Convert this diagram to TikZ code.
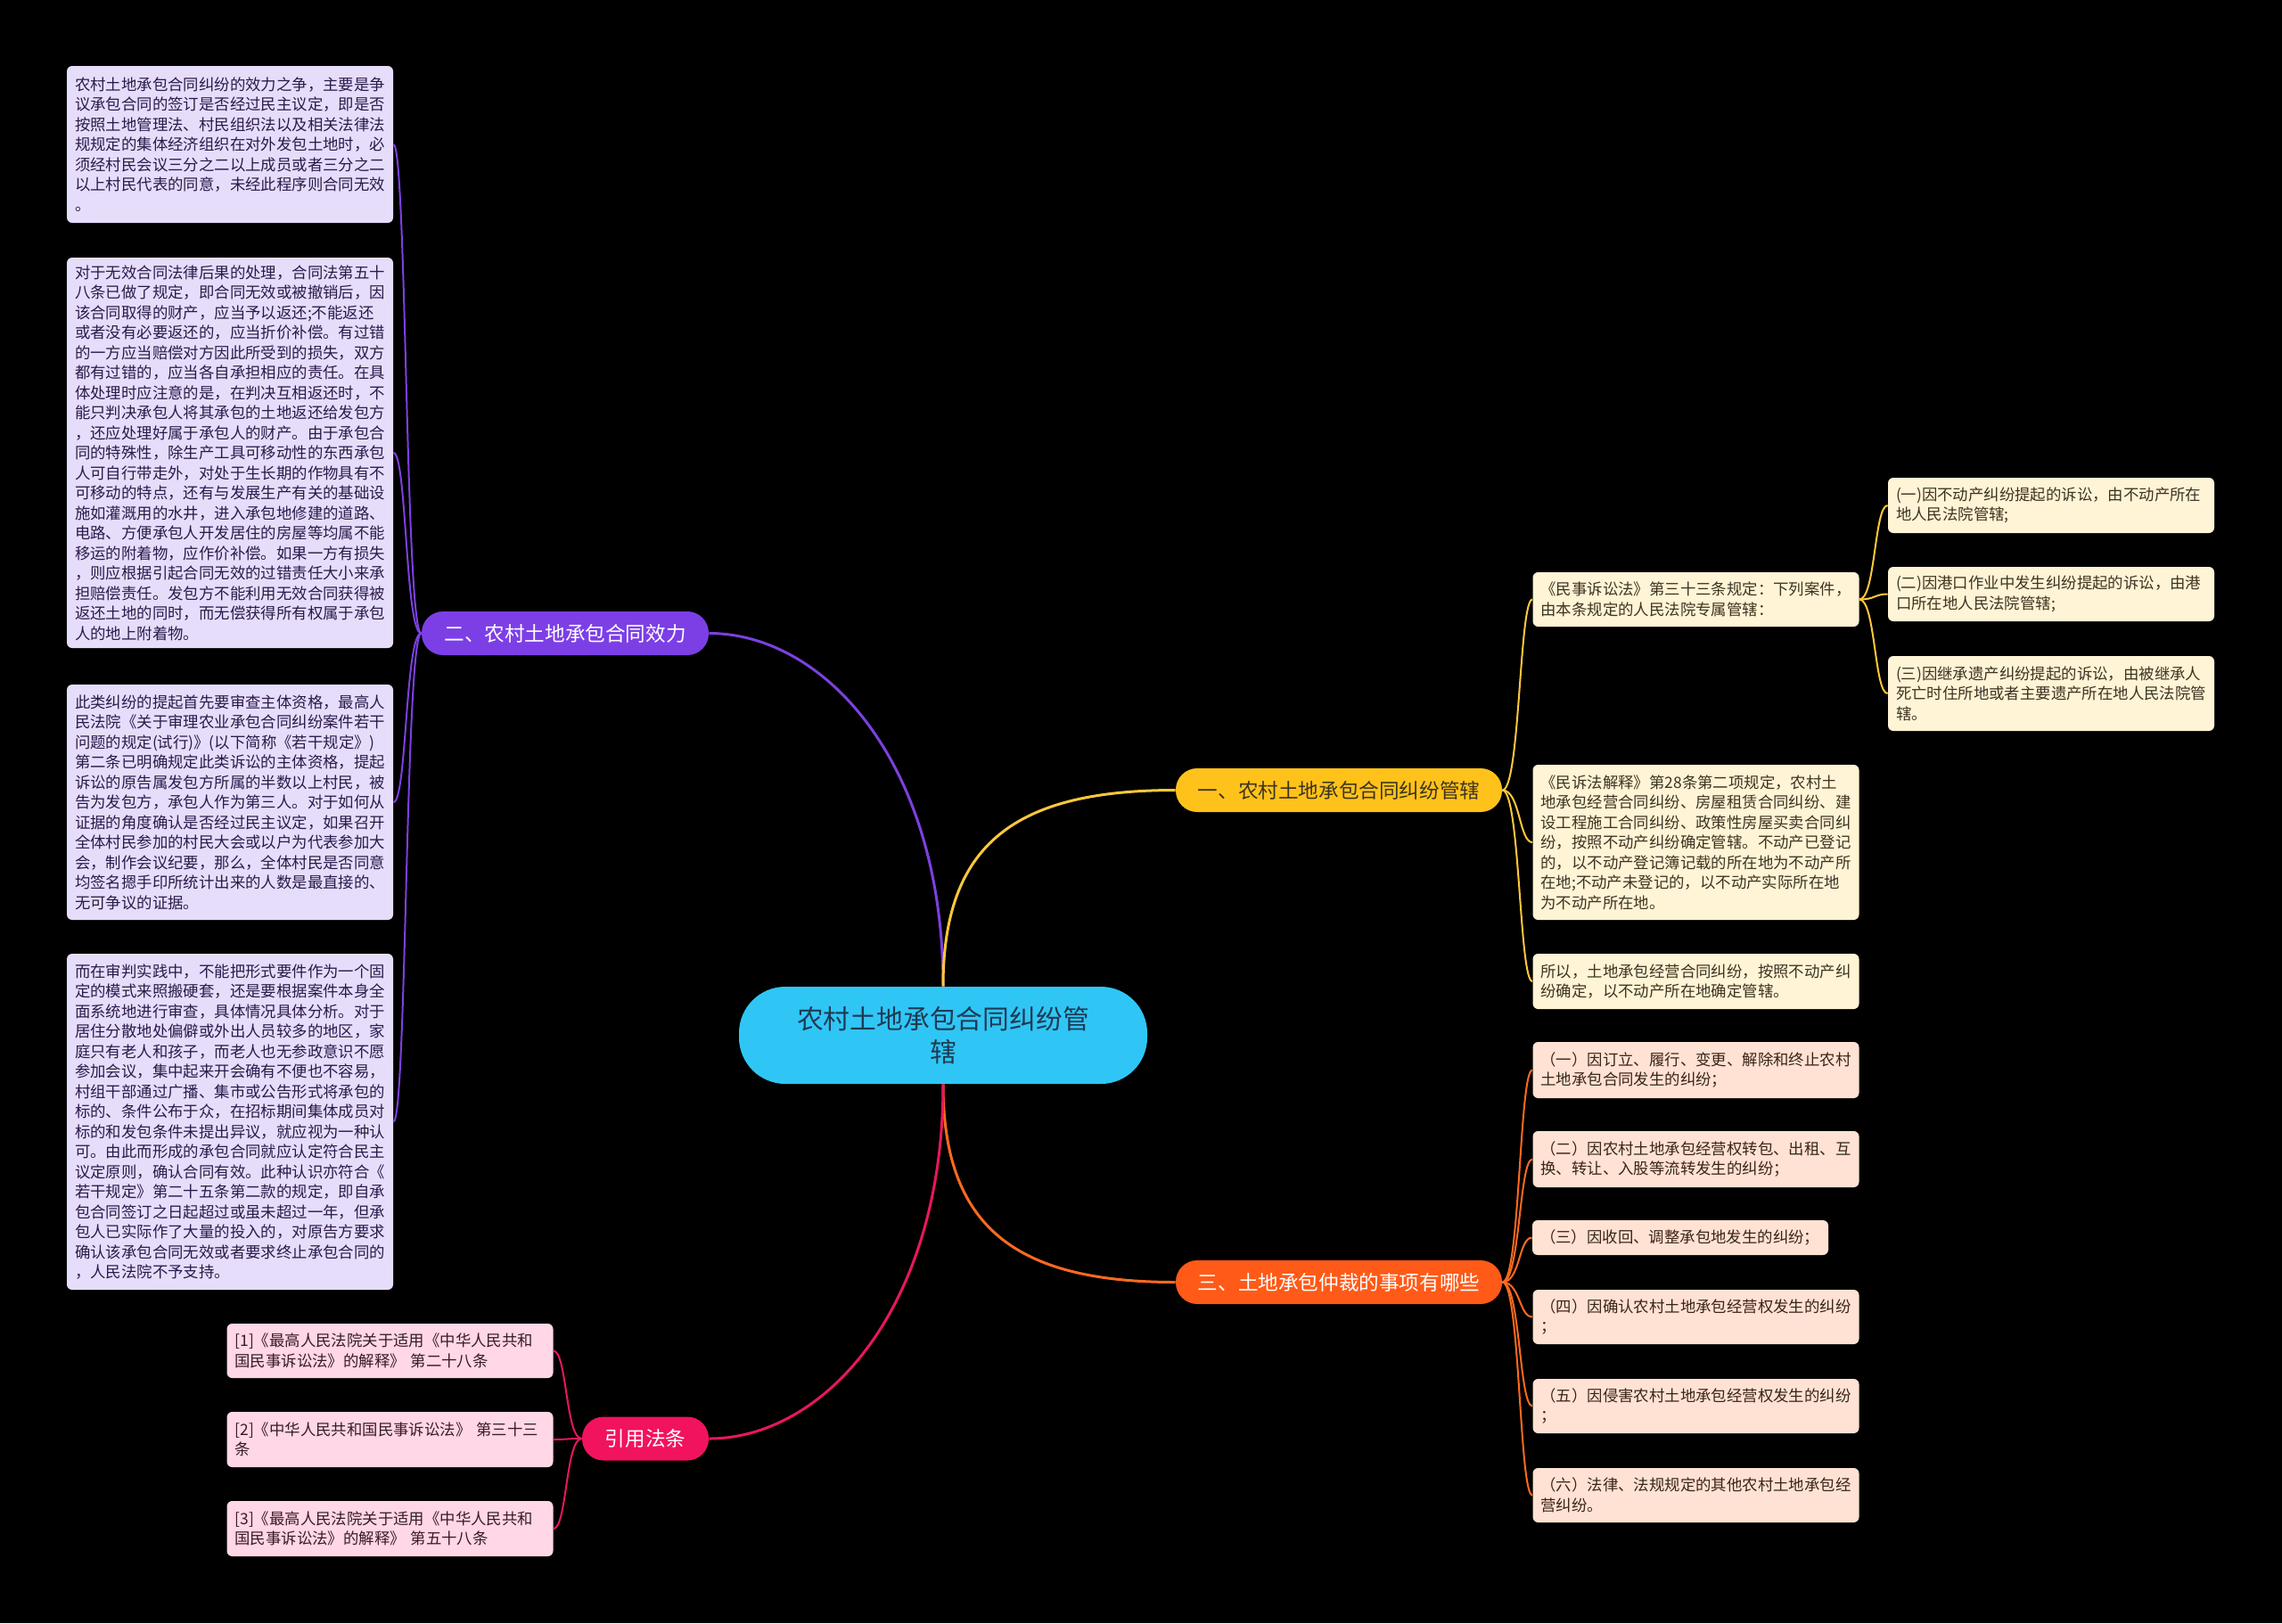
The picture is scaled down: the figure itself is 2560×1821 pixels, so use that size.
\documentclass[tikz,border=0pt]{standalone}
\usepackage{fontspec}
\setmainfont{Noto Sans CJK SC}
\definecolor{cRoot}{HTML}{2FC6F6}
\definecolor{tRoot}{HTML}{1F3A52}
\definecolor{cY}{HTML}{FFC21A}
\definecolor{lnY}{HTML}{FFC83A}
\definecolor{lfY}{HTML}{FFF4D6}
\definecolor{txY}{HTML}{3D3320}
\definecolor{cP}{HTML}{7C3FE6}
\definecolor{lnP}{HTML}{7C40E0}
\definecolor{lfP}{HTML}{E6DDFB}
\definecolor{txP}{HTML}{2B1A4A}
\definecolor{cO}{HTML}{FF5A17}
\definecolor{lnO}{HTML}{FF6A1E}
\definecolor{lfO}{HTML}{FFE2D3}
\definecolor{txO}{HTML}{3A2418}
\definecolor{cK}{HTML}{F2135E}
\definecolor{lnK}{HTML}{E8175D}
\definecolor{lfK}{HTML}{FFD7E6}
\definecolor{txK}{HTML}{3A1A28}

\begin{document}
\begin{tikzpicture}[x=0.5pt,y=-0.5pt,
	rootbox/.style={fill=cRoot,text=tRoot,rounded corners=26pt,minimum width=229pt,minimum height=54.5pt,align=center,inner sep=0pt,font=\fontsize{14.9}{18.75}\selectfont},
	mainbox/.style={rounded corners=12pt,minimum height=24.5pt,inner sep=0pt,font=\fontsize{11.3}{13}\selectfont},
	leaf/.style={rounded corners=3pt,align=left,text width=174pt,inner xsep=4.5pt,inner ysep=2pt,font=\fontsize{8.7}{11.25}\selectfont},
	leafY/.style={leaf,fill=lfY,text=txY},
	leafP/.style={leaf,fill=lfP,text=txP},
	leafO/.style={leaf,fill=lfO,text=txO},
	leafK/.style={leaf,fill=lfK,text=txK},
	trunk/.style={line width=1.5pt},
	twig/.style={line width=1pt}]
	% background
	\fill[black] (0,0) rectangle (2560,1821);
	% root
	\node[rootbox] (root) at (1058,1161.5) {农村土地承包合同纠纷管\\辖};
	% main branches
	\node[mainbox,fill=cY,text=txY,minimum width=183pt] (guanxia) at (1502,886.5) {一、农村土地承包合同纠纷管辖};
	\node[mainbox,fill=cP,text=white,minimum width=161pt] (xiaoli) at (634,710.5) {二、农村土地承包合同效力};
	\node[mainbox,fill=cO,text=white,minimum width=183pt] (zhongcai) at (1502,1438.5) {三、土地承包仲裁的事项有哪些};
	\node[mainbox,fill=cK,text=white,minimum width=71pt] (fatiao) at (724,1614) {引用法条};
	% yellow leaves
	\node[leafY,minimum height=30.5pt] (gx1) at (1902.5,672.5) {《民事诉讼法》第三十三条规定：下列案件，\\由本条规定的人民法院专属管辖：};
	\node[leafY,minimum height=87pt] (gx2) at (1902.5,945) {《民诉法解释》第28条第二项规定，农村土\\地承包经营合同纠纷、房屋租赁合同纠纷、建\\设工程施工合同纠纷、政策性房屋买卖合同纠\\纷，按照不动产纠纷确定管辖。不动产已登记\\的，以不动产登记簿记载的所在地为不动产所\\在地;不动产未登记的，以不动产实际所在地\\为不动产所在地。};
	\node[leafY,minimum height=31pt] (gx3) at (1902.5,1101) {所以，土地承包经营合同纠纷，按照不动产纠\\纷确定，以不动产所在地确定管辖。};
	\node[leafY,minimum height=31pt] (gx1a) at (2301,567) {(一)因不动产纠纷提起的诉讼，由不动产所在\\地人民法院管辖;};
	\node[leafY,minimum height=30.5pt] (gx1b) at (2301,666.5) {(二)因港口作业中发生纠纷提起的诉讼，由港\\口所在地人民法院管辖;};
	\node[leafY,minimum height=42pt] (gx1c) at (2301,778) {(三)因继承遗产纠纷提起的诉讼，由被继承人\\死亡时住所地或者主要遗产所在地人民法院管\\辖。};
	% purple leaves
	\node[leafP,minimum height=88pt] (xl1) at (258,162) {农村土地承包合同纠纷的效力之争，主要是争\\议承包合同的签订是否经过民主议定，即是否\\按照土地管理法、村民组织法以及相关法律法\\规规定的集体经济组织在对外发包土地时，必\\须经村民会议三分之二以上成员或者三分之二\\以上村民代表的同意，未经此程序则合同无效\\。};
	\node[leafP,minimum height=219pt] (xl2) at (258,508) {对于无效合同法律后果的处理，合同法第五十\\八条已做了规定，即合同无效或被撤销后，因\\该合同取得的财产，应当予以返还;不能返还\\或者没有必要返还的，应当折价补偿。有过错\\的一方应当赔偿对方因此所受到的损失，双方\\都有过错的，应当各自承担相应的责任。在具\\体处理时应注意的是，在判决互相返还时，不\\能只判决承包人将其承包的土地返还给发包方\\，还应处理好属于承包人的财产。由于承包合\\同的特殊性，除生产工具可移动性的东西承包\\人可自行带走外，对处于生长期的作物具有不\\可移动的特点，还有与发展生产有关的基础设\\施如灌溉用的水井，进入承包地修建的道路、\\电路、方便承包人开发居住的房屋等均属不能\\移运的附着物，应作价补偿。如果一方有损失\\，则应根据引起合同无效的过错责任大小来承\\担赔偿责任。发包方不能利用无效合同获得被\\返还土地的同时，而无偿获得所有权属于承包\\人的地上附着物。};
	\node[leafP,minimum height=132pt] (xl3) at (258,900) {此类纠纷的提起首先要审查主体资格，最高人\\民法院《关于审理农业承包合同纠纷案件若干\\问题的规定(试行)》(以下简称《若干规定》)\\第二条已明确规定此类诉讼的主体资格，提起\\诉讼的原告属发包方所属的半数以上村民，被\\告为发包方，承包人作为第三人。对于如何从\\证据的角度确认是否经过民主议定，如果召开\\全体村民参加的村民大会或以户为代表参加大\\会，制作会议纪要，那么，全体村民是否同意\\均签名摁手印所统计出来的人数是最直接的、\\无可争议的证据。};
	\node[leafP,minimum height=188.5pt] (xl4) at (258,1258.5) {而在审判实践中，不能把形式要件作为一个固\\定的模式来照搬硬套，还是要根据案件本身全\\面系统地进行审查，具体情况具体分析。对于\\居住分散地处偏僻或外出人员较多的地区，家\\庭只有老人和孩子，而老人也无参政意识不愿\\参加会议，集中起来开会确有不便也不容易，\\村组干部通过广播、集市或公告形式将承包的\\标的、条件公布于众，在招标期间集体成员对\\标的和发包条件未提出异议，就应视为一种认\\可。由此而形成的承包合同就应认定符合民主\\议定原则，确认合同有效。此种认识亦符合《\\若干规定》第二十五条第二款的规定，即自承\\包合同签订之日起超过或虽未超过一年，但承\\包人已实际作了大量的投入的，对原告方要求\\确认该承包合同无效或者要求终止承包合同的\\，人民法院不予支持。};
	% orange leaves
	\node[leafO,minimum height=31.5pt] (zc1) at (1902.5,1200.5) {（一）因订立、履行、变更、解除和终止农村\\土地承包合同发生的纠纷；};
	\node[leafO,minimum height=31.5pt] (zc2) at (1902.5,1300.5) {（二）因农村土地承包经营权转包、出租、互\\换、转让、入股等流转发生的纠纷；};
	\node[leafO,text width=157pt,minimum height=19.5pt] (zc3) at (1885,1388.5) {（三）因收回、调整承包地发生的纠纷；};
	\node[leafO,minimum height=30.5pt] (zc4) at (1902.5,1477.5) {（四）因确认农村土地承包经营权发生的纠纷\\；};
	\node[leafO,minimum height=30.5pt] (zc5) at (1902.5,1577.5) {（五）因侵害农村土地承包经营权发生的纠纷\\；};
	\node[leafO,minimum height=30.5pt] (zc6) at (1902.5,1677.5) {（六）法律、法规规定的其他农村土地承包经\\营纠纷。};
	% pink leaves
	\node[leafK,minimum height=30.5pt] (ft1) at (437.5,1515.5) {[1]《最高人民法院关于适用《中华人民共和\\国民事诉讼法》的解释》 第二十八条};
	\node[leafK,minimum height=31pt] (ft2) at (437.5,1615) {[2]《中华人民共和国民事诉讼法》 第三十三\\条};
	\node[leafK,minimum height=31pt] (ft3) at (437.5,1715) {[3]《最高人民法院关于适用《中华人民共和\\国民事诉讼法》的解释》 第五十八条};
	% trunks from the root
	\draw[trunk,lnP] (root.north) .. controls +(0,-250) and +(130,0) .. (xiaoli.east);
	\draw[trunk,lnY] (root.north) .. controls +(0,-160) and +(-180,0) .. (guanxia.west);
	\draw[trunk,lnO] (root.south) .. controls +(0,160) and +(-180,0) .. (zhongcai.west);
	\draw[trunk,lnK] (root.south) .. controls +(0,250) and +(130,0) .. (fatiao.east);
	% twigs
	\foreach \k in {gx1,gx2,gx3}
		\draw[twig,lnY] (guanxia.east) .. controls +(20,0) and +(-15,0) .. (\k.west);
	\foreach \k in {gx1a,gx1b,gx1c}
		\draw[twig,lnY] (gx1.east) .. controls +(18,0) and +(-15,0) .. (\k.west);
	\foreach \k in {zc1,zc2,zc3,zc4,zc5,zc6}
		\draw[twig,lnO] (zhongcai.east) .. controls +(20,0) and +(-15,0) .. (\k.west);
	\foreach \k in {xl1,xl2,xl3,xl4}
		\draw[twig,lnP] (xiaoli.west) .. controls +(-18,0) and +(15,0) .. (\k.east);
	\foreach \k in {ft1,ft2,ft3}
		\draw[twig,lnK] (fatiao.west) .. controls +(-18,0) and +(15,0) .. (\k.east);
\end{tikzpicture}
\end{document}
